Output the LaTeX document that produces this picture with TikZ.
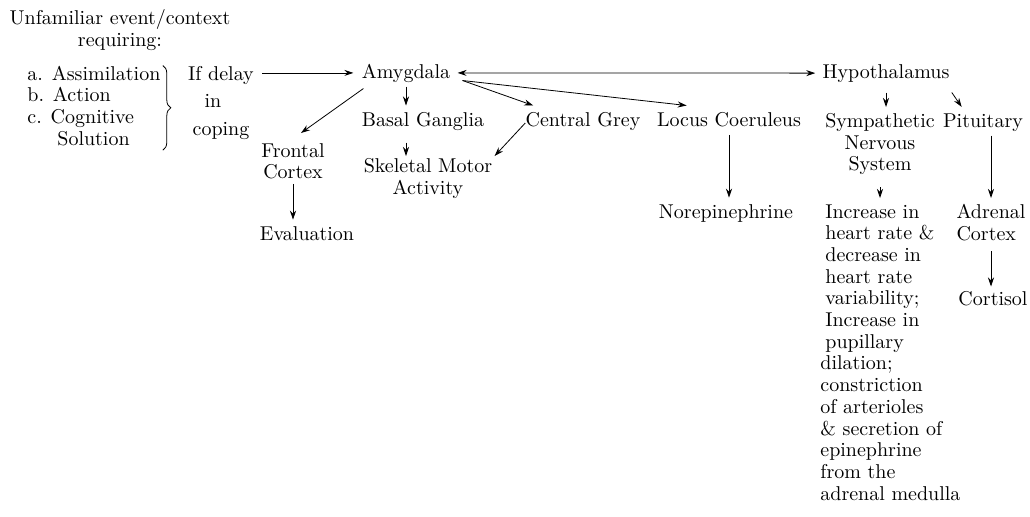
\documentclass[tikz,border=0pt]{standalone}
\usetikzlibrary{arrows.meta,decorations.pathreplacing}

\begin{document}
\begin{tikzpicture}[
x=5pt, y=-5pt,
every node/.style={
    inner sep=0pt,
    font=\fontsize{10}{10.85}\selectfont
},
>={Stealth[length=4.5pt,width=3pt]}
]
\useasboundingbox (0,0) rectangle (103,51.6);

%---------------- Input ----------------
\node[anchor=north, align=center] (context) at (12.0,0.9) {Unfamiliar event/context\\requiring:};
\node[anchor=north west, align=left] (needs) at (2.7,6.55) {a. Assimilation\\b. Action\\c. Cognitive\\\hspace*{15pt}Solution};
\node[anchor=north, align=center] (delay) at (22.1,6.55) {If delay\\[3pt]\hspace*{-8pt}in\\[3pt]coping};

\draw[decorate, decoration={brace, amplitude=4pt}] ([xshift=1pt]needs.north east) -- ([xshift=1pt,yshift=-2pt]needs.south east);

%---------------- Amygdala ----------------
\node[anchor=base] (amyg) at (40.6,7.8) {Amygdala};
\node[anchor=north, align=center] (frontal) at (29.3,14.3) {Frontal\\Cortex};
\node[anchor=base] (eval) at (30.7,24.0) {Evaluation};
\node[anchor=base] (basal) at (42.3,12.6) {Basal Ganglia};
\node[anchor=north, align=center] (skel) at (42.8,15.8) {Skeletal Motor\\Activity};
\node[anchor=base] (cgrey) at (58.3,12.6) {Central Grey};
\node[anchor=base] (locus) at (72.9,12.6) {Locus Coeruleus};
\node[anchor=base] (norep) at (72.6,21.8) {Norepinephrine};

\coordinate (amygout) at ([xshift=6pt,yshift=1pt]amyg.south east);

\draw[->, shorten <=4pt, shorten >=4pt] (delay.east |- amyg.west) -- (amyg.west);
\draw[->] ([xshift=1pt,yshift=-3pt]amyg.south west) -- ([xshift=4pt,yshift=5pt]frontal.north);
\draw[->, shorten <=2pt, shorten >=3pt] (frontal.south) -- (frontal.south |- eval.north);
\draw[->, shorten <=2pt, shorten >=3pt] (amyg.south) -- (amyg.south |- basal.north);
\draw[->, shorten <=6pt, shorten >=1pt] (basal.south -| amyg) -- (skel.north -| amyg);
\draw[->] (amygout) -- ([xshift=4pt,yshift=3pt]cgrey.north west);
\draw[->] ([yshift=-1pt]cgrey.west) -- ([xshift=1pt,yshift=1pt]skel.north east);
\draw[->] (amygout) -- ([xshift=15pt,yshift=3pt]locus.north west);
\draw[->, shorten <=4pt, shorten >=3pt] (locus.south) -- (locus.south |- norep.north);

%---------------- Hypothalamus ----------------
\node[anchor=base] (hypo) at (88.6,7.8) {Hypothalamus};
\node[anchor=north, align=center] (symp) at (88.0,11.3) {Sympathetic\\Nervous\\System};
\node[anchor=base] (pit) at (98.3,12.7) {Pituitary};
\node[anchor=north west, align=left] (eff) at (82.0,20.4) {%
\hspace*{2.5pt}Increase in\\
\hspace*{2.5pt}heart rate \&\\
\hspace*{2.5pt}decrease in\\
\hspace*{2.5pt}heart rate\\
\hspace*{2.5pt}variability;\\
\hspace*{2.5pt}Increase in\\
\hspace*{2.5pt}pupillary\\
dilation;\\
constriction\\
of arterioles\\
\& secretion of\\
epinephrine\\
from the\\
adrenal medulla};
\node[anchor=north, align=left] (adrenal) at (99.1,20.4) {Adrenal\\Cortex};
\node[anchor=base] (cortisol) at (99.3,30.5) {Cortisol};

\draw[<->, shorten <=3.5pt, shorten >=3.5pt] (amyg.east) -- (hypo.west);
\draw[->, shorten <=5pt, shorten >=3pt] (hypo.south) -- (hypo.south |- symp.north);
\draw[->] ([xshift=1pt,yshift=-5pt]hypo.south east) -- ([xshift=9.5pt,yshift=3pt]pit.north west);
\draw[->, shorten <=6pt, shorten >=3pt] (symp.south) -- (symp.south |- eff.north);
\draw[->, shorten <=2pt, shorten >=3pt] (pit.south -| adrenal.north) -- (adrenal.north);
\draw[->, shorten <=5pt, shorten >=2pt] (adrenal.south) -- (adrenal.south |- cortisol.north);

\end{tikzpicture}
\end{document}
